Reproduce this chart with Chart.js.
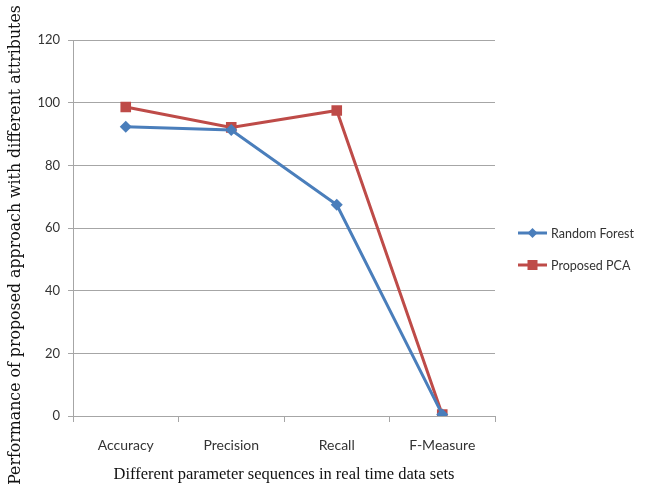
<!DOCTYPE html>
<html><head><meta charset="utf-8">
<script src="https://cdn.jsdelivr.net/npm/chart.js@4.4.1/dist/chart.umd.min.js"></script>
<style>html,body{margin:0;padding:0;background:#fff}#wrap{width:652px;height:488px;position:relative}</style>
</head><body><div id="wrap"><canvas id="c" width="652" height="488"></canvas></div>
<script>
const categories = ["Accuracy", "Precision", "Recall", "F-Measure"];
const randomForest = [92.3, 91.3, 67.4, 0.5];
const proposedPCA = [98.6, 92.1, 97.5, 0.5];
const seriesNames = ["Random Forest", "Proposed PCA"];
const yTitle = "Performance of proposed approach with different attributes";
const xTitle = "Different parameter sequences in real time data sets";

const BLUE = "#4a7ebb", RED = "#be4b48", GRID = "#a6a6a6";

const legendPlugin = {
  id: "customLegend",
  afterDraw(chart) {
    const ctx = chart.ctx;
    const items = chart.data.datasets;
    const x0 = 518, y0 = 233, gap = 32;
    items.forEach((ds, i) => {
      const y = y0 + i * gap;
      ctx.save();
      ctx.strokeStyle = ds.borderColor; ctx.lineWidth = 3;
      ctx.beginPath(); ctx.moveTo(x0, y); ctx.lineTo(x0 + 29, y); ctx.stroke();
      ctx.fillStyle = ds.backgroundColor;
      const cx = x0 + 14.5;
      if (ds.pointStyle === "rectRot") {
        ctx.beginPath(); ctx.moveTo(cx, y - 5); ctx.lineTo(cx + 5, y); ctx.lineTo(cx, y + 5); ctx.lineTo(cx - 5, y); ctx.closePath(); ctx.fill();
      } else {
        ctx.fillRect(cx - 5, y - 5, 10, 10);
      }
      ctx.fillStyle = "#333"; ctx.font = "12.5px Lato"; ctx.textBaseline = "middle";
      ctx.fillText(ds.label, x0 + 33, y + 1);
      ctx.restore();
    });
    // vertical axis title
    ctx.save();
    ctx.translate(16, 245);
    ctx.rotate(-Math.PI / 2);
    let size = 17;
    ctx.font = size + "px 'DejaVu Serif'";
    const w = ctx.measureText(yTitle).width;
    size = size * 480 / w;
    ctx.font = size.toFixed(2) + "px 'DejaVu Serif'";
    ctx.fillStyle = "#111"; ctx.textAlign = "center"; ctx.textBaseline = "middle";
    ctx.fillText(yTitle, 0, 0);
    ctx.restore();
  }
};

new Chart(document.getElementById("c"), {
  type: "line",
  data: {
    labels: categories,
    datasets: [
      { label: seriesNames[0], data: randomForest, borderColor: BLUE, backgroundColor: BLUE, borderWidth: 3,
        pointStyle: "rectRot", pointRadius: 6, pointBorderWidth: 0, tension: 0 },
      { label: seriesNames[1], data: proposedPCA, borderColor: RED, backgroundColor: RED, borderWidth: 3,
        pointStyle: "rect", pointRadius: 7.5, pointBorderWidth: 0, tension: 0 }
    ]
  },
  options: {
    responsive: false, animation: false, devicePixelRatio: 1,
    layout: { padding: { top: 40, right: 157, left: 0, bottom: 0 } },
    plugins: { legend: { display: false }, tooltip: { enabled: false } },
    scales: {
      x: {
        offset: true,
        grid: { offset: true, drawOnChartArea: false, drawTicks: true, tickLength: 6, color: GRID },
        border: { color: GRID, width: 1 },
        ticks: { color: "#333", font: { family: "Lato", size: 14 }, padding: 15 },
        title: { display: true, text: xTitle, color: "#111", font: { family: "Liberation Serif", size: 16.5 }, padding: { top: 4, bottom: 3 } },
        afterFit(s) { s.height = 72; }
      },
      y: {
        min: 0, max: 120,
        ticks: { stepSize: 20, color: "#333", font: { family: "Lato", size: 13 }, padding: 8 },
        grid: { color: GRID, tickLength: 5, lineWidth: 1 },
        border: { color: GRID, width: 1 },
        title: { display: false },
        afterFit(s) { s.width = 73; }
      }
    }
  },
  plugins: [legendPlugin]
});
</script></body></html>
